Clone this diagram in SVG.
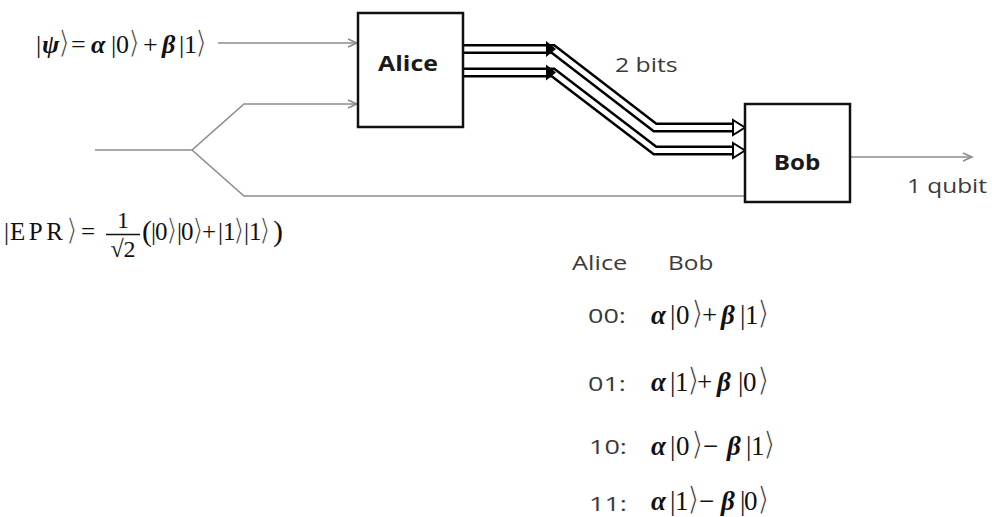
<svg xmlns="http://www.w3.org/2000/svg" width="992" height="517" viewBox="0 0 992 517">
<defs>
<marker id="open" markerWidth="12" markerHeight="12" refX="10" refY="5" orient="auto" markerUnits="userSpaceOnUse">
<path d="M1,1 L10,5 L1,9" fill="none" stroke="#8a8a8a" stroke-width="1.5"/>
</marker>
<style>
.box{fill:#fff;stroke:#111;stroke-width:2.5}
.grey{fill:none;stroke:#8c8c8c;stroke-width:1.6}
.rail{fill:none;stroke:#000;stroke-width:10;stroke-linejoin:miter}
.railin{fill:none;stroke:#fff;stroke-width:5;stroke-linejoin:miter}
.head{fill:#fff;stroke:#000;stroke-width:2}
.lbl{font-family:"Open Sans","Liberation Sans",sans-serif;font-size:20px;fill:#3a3a3a}
.bold{font-family:"Open Sans","Liberation Sans",sans-serif;font-weight:bold;font-size:22px;fill:#1a1a1a}
.m{font-family:"Liberation Serif","DejaVu Serif",serif;fill:#111}
.v{font-weight:bold;font-style:italic}
.br{font-family:"DejaVu Sans","Liberation Serif",serif;font-weight:normal;font-style:normal;font-size:1.2em;fill:#333;stroke:#fff;stroke-width:1.1}
.pa{font-size:1.2em}
</style>
</defs>

<g id="connectors">
<line class="grey" x1="218" y1="43" x2="357" y2="43" marker-end="url(#open)"/>
<polyline class="grey" points="95,150 192,150 244,104 357,104" marker-end="url(#open)"/>
<polyline class="grey" points="192,150 244,196 744,196"/>
<line class="grey" x1="851" y1="157" x2="972" y2="157" marker-end="url(#open)"/>
<g id="bit1">
<path class="rail" d="M464,49 H553 L655,127.5 H736"/>
<path class="railin" d="M464,49 H553 L655,127.5 H738"/>
<path class="head" d="M733,120 L745,127.5 L733,135 Z"/>
<path d="M546,41 L556,49 L546,57 Z" fill="#000"/>
</g>
<g id="bit2">
<path class="rail" d="M464,72.5 H553 L655,150.5 H736"/>
<path class="railin" d="M464,72.5 H553 L655,150.5 H738"/>
<path class="head" d="M733,143 L745,150.5 L733,158 Z"/>
<path d="M546,64.5 L556,72.5 L546,80.5 Z" fill="#000"/>
</g>
</g>

<g id="alice">
<rect class="box" x="358" y="13" width="105" height="114"/>
<text class="bold" transform="translate(408,71) scale(1.13,1)" text-anchor="middle">Alice</text>
</g>

<g id="bob">
<rect class="box" x="745" y="104" width="105" height="98"/>
<text class="bold" transform="translate(797,170) scale(1.1,1)" text-anchor="middle">Bob</text>
</g>

<g id="labels">
<text class="lbl" transform="translate(615,72) scale(1.24,1)">2 bits</text>
<text class="lbl" transform="translate(907,193) scale(1.22,1)">1 qubit</text>
<text class="lbl" transform="translate(572,270) scale(1.27,1)">Alice</text>
<text class="lbl" transform="translate(668,270) scale(1.22,1)">Bob</text>
<text class="lbl" transform="translate(588,323) scale(1.35,1)">00:</text>
<text class="lbl" transform="translate(588,391) scale(1.35,1)">01:</text>
<text class="lbl" transform="translate(589,454) scale(1.35,1)">10:</text>
<text class="lbl" transform="translate(589,511) scale(1.35,1)">11:</text>
</g>

<g id="psi">
<text class="m" y="53" font-size="26"><tspan x="36">|</tspan><tspan x="42" class="v">ψ</tspan><tspan x="58" class="br">⟩</tspan><tspan x="71">=</tspan><tspan x="91" class="v">α</tspan><tspan x="111">|</tspan><tspan x="116">0</tspan><tspan x="128" class="br">⟩</tspan><tspan x="143">+</tspan><tspan x="162" class="v">β</tspan><tspan x="179">|</tspan><tspan x="184">1</tspan><tspan x="195" class="br">⟩</tspan></text>
</g>

<g id="epr">
<text class="m" y="240" font-size="25"><tspan x="4">|</tspan><tspan x="10" letter-spacing="3.5">EPR</tspan><tspan x="66" class="br">⟩</tspan><tspan x="81">=</tspan></text>
<text class="m" x="123" y="228" font-size="24" text-anchor="middle">1</text>
<line x1="106" y1="234.5" x2="140" y2="234.5" stroke="#111" stroke-width="1.4"/>
<text class="m" x="123" y="257" font-size="24" text-anchor="middle">√2</text>
<text class="m" y="240" font-size="25"><tspan x="142" class="pa" dy="1">(</tspan><tspan x="151" dy="-1">|</tspan><tspan x="155">0</tspan><tspan x="166" class="br">⟩</tspan><tspan x="177">|</tspan><tspan x="181">0</tspan><tspan x="192" class="br">⟩</tspan><tspan x="202">+</tspan><tspan x="218">|</tspan><tspan x="223">1</tspan><tspan x="233" class="br">⟩</tspan><tspan x="244">|</tspan><tspan x="249">1</tspan><tspan x="259" class="br">⟩</tspan><tspan x="273" class="pa" dy="1">)</tspan></text>
</g>

<g id="table">
<text class="m" y="324" font-size="27"><tspan x="651" class="v">α</tspan><tspan x="670">|</tspan><tspan x="676">0</tspan><tspan x="691" class="br">⟩</tspan><tspan x="702">+</tspan><tspan x="721" class="v">β</tspan><tspan x="740">|</tspan><tspan x="745">1</tspan><tspan x="757" class="br">⟩</tspan></text>
<text class="m" y="391" font-size="27"><tspan x="651" class="v">α</tspan><tspan x="670">|</tspan><tspan x="675">1</tspan><tspan x="687" class="br">⟩</tspan><tspan x="697">+</tspan><tspan x="717" class="v">β</tspan><tspan x="738">|</tspan><tspan x="743">0</tspan><tspan x="757" class="br">⟩</tspan></text>
<text class="m" y="455" font-size="27"><tspan x="651" class="v">α</tspan><tspan x="670">|</tspan><tspan x="676">0</tspan><tspan x="691" class="br">⟩</tspan><tspan x="703">−</tspan><tspan x="727" class="v">β</tspan><tspan x="746">|</tspan><tspan x="751">1</tspan><tspan x="763" class="br">⟩</tspan></text>
<text class="m" y="510" font-size="27"><tspan x="651" class="v">α</tspan><tspan x="670">|</tspan><tspan x="675">1</tspan><tspan x="687" class="br">⟩</tspan><tspan x="699">−</tspan><tspan x="721" class="v">β</tspan><tspan x="740">|</tspan><tspan x="744">0</tspan><tspan x="757" class="br">⟩</tspan></text>
</g>
</svg>
